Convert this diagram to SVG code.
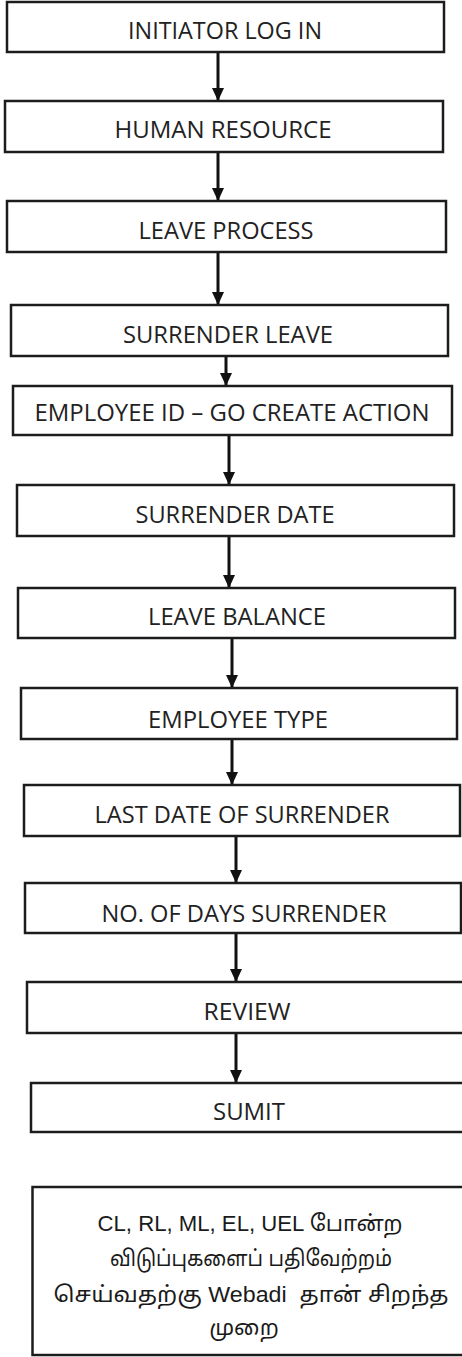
<svg xmlns="http://www.w3.org/2000/svg" width="462" height="1357" viewBox="0 0 462 1357">
  <style>
    .box { fill: #ffffff; stroke: #1c1c1c; stroke-width: 2.5; }
    .lbl { font-family: "Open Sans", "Liberation Sans", sans-serif; font-size: 24px; fill: #222222; text-anchor: middle; dominant-baseline: central; }
    .note { font-family: "Liberation Sans", "Noto Sans Tamil", "Noto Sans", sans-serif; font-size: 22px; fill: #1a1a1a; text-anchor: middle; dominant-baseline: central; }
    .link { stroke: #111111; stroke-width: 3; fill: none; }
  </style>
  <defs>
    <!-- downward-pointing head, tip sits on the line end -->
    <marker id="arrow" viewBox="0 0 13 12" refX="13" refY="6" markerWidth="13" markerHeight="12" markerUnits="userSpaceOnUse" orient="auto">
      <path d="M0,0 L13,6 L0,12 Z" fill="#111111"/>
    </marker>
  </defs>
  <rect width="462" height="1357" fill="#ffffff"/>

  <!-- flow connectors -->
  <g id="connectors">
    <line class="link" x1="218" y1="52" x2="218" y2="101" marker-end="url(#arrow)"/>
    <line class="link" x1="218" y1="152" x2="218" y2="201" marker-end="url(#arrow)"/>
    <line class="link" x1="218" y1="252" x2="218" y2="305" marker-end="url(#arrow)"/>
    <line class="link" x1="226" y1="356" x2="226" y2="386" marker-end="url(#arrow)"/>
    <line class="link" x1="229" y1="435" x2="229" y2="485" marker-end="url(#arrow)"/>
    <line class="link" x1="229" y1="536" x2="229" y2="588" marker-end="url(#arrow)"/>
    <line class="link" x1="232" y1="638" x2="232" y2="688" marker-end="url(#arrow)"/>
    <line class="link" x1="232" y1="739" x2="232" y2="785" marker-end="url(#arrow)"/>
    <line class="link" x1="236" y1="836" x2="236" y2="883" marker-end="url(#arrow)"/>
    <line class="link" x1="236" y1="933" x2="236" y2="982" marker-end="url(#arrow)"/>
    <line class="link" x1="236" y1="1033" x2="236" y2="1083" marker-end="url(#arrow)"/>
  </g>

  <g id="initiator-log-in">
    <rect class="box" x="7" y="2" width="437" height="50"/>
    <text class="lbl" x="225" y="29" textLength="194" lengthAdjust="spacingAndGlyphs">INITIATOR LOG IN</text>
  </g>
  <g id="human-resource">
    <rect class="box" x="5" y="101" width="438" height="51"/>
    <text class="lbl" x="223" y="128" textLength="217" lengthAdjust="spacingAndGlyphs">HUMAN RESOURCE</text>
  </g>
  <g id="leave-process">
    <rect class="box" x="7" y="201" width="439" height="51"/>
    <text class="lbl" x="226" y="229" textLength="175" lengthAdjust="spacingAndGlyphs">LEAVE PROCESS</text>
  </g>
  <g id="surrender-leave">
    <rect class="box" x="11" y="305" width="437" height="51"/>
    <text class="lbl" x="228" y="333" textLength="210" lengthAdjust="spacingAndGlyphs">SURRENDER LEAVE</text>
  </g>
  <g id="employee-id">
    <rect class="box" x="13" y="386" width="439" height="49"/>
    <text class="lbl" x="232" y="411" textLength="395" lengthAdjust="spacingAndGlyphs">EMPLOYEE ID – GO CREATE ACTION</text>
  </g>
  <g id="surrender-date">
    <rect class="box" x="17" y="485" width="437" height="51"/>
    <text class="lbl" x="235" y="513" textLength="199" lengthAdjust="spacingAndGlyphs">SURRENDER DATE</text>
  </g>
  <g id="leave-balance">
    <rect class="box" x="18" y="588" width="437" height="50"/>
    <text class="lbl" x="237" y="615" textLength="178" lengthAdjust="spacingAndGlyphs">LEAVE BALANCE</text>
  </g>
  <g id="employee-type">
    <rect class="box" x="21" y="688" width="436" height="51"/>
    <text class="lbl" x="238" y="718" textLength="180" lengthAdjust="spacingAndGlyphs">EMPLOYEE TYPE</text>
  </g>
  <g id="last-date-of-surrender">
    <rect class="box" x="24" y="785" width="436" height="51"/>
    <text class="lbl" x="242" y="813" textLength="295" lengthAdjust="spacingAndGlyphs">LAST DATE OF SURRENDER</text>
  </g>
  <g id="no-of-days-surrender">
    <rect class="box" x="25" y="883" width="436" height="50"/>
    <text class="lbl" x="244" y="912" textLength="285" lengthAdjust="spacingAndGlyphs">NO. OF DAYS SURRENDER</text>
  </g>
  <g id="review">
    <rect class="box" x="27" y="982" width="440" height="51"/>
    <text class="lbl" x="247" y="1010" textLength="87" lengthAdjust="spacingAndGlyphs">REVIEW</text>
  </g>
  <g id="sumit">
    <rect class="box" x="31" y="1083" width="436" height="49"/>
    <text class="lbl" x="249" y="1110" textLength="72" lengthAdjust="spacingAndGlyphs">SUMIT</text>
  </g>

  <g id="note">
    <rect class="box" x="32.5" y="1187" width="440" height="168"/>
    <text class="note" x="250" y="1223" textLength="305" lengthAdjust="spacingAndGlyphs">CL, RL, ML, EL, UEL போன்ற</text>
    <text class="note" x="251" y="1258" textLength="282" lengthAdjust="spacingAndGlyphs">விடுப்புகளைப் பதிவேற்றம்</text>
    <text class="note" x="251" y="1294" textLength="395" lengthAdjust="spacingAndGlyphs" xml:space="preserve">செய்வதற்கு Webadi  தான் சிறந்த</text>
    <text class="note" x="244" y="1327">முறை</text>
  </g>
</svg>
